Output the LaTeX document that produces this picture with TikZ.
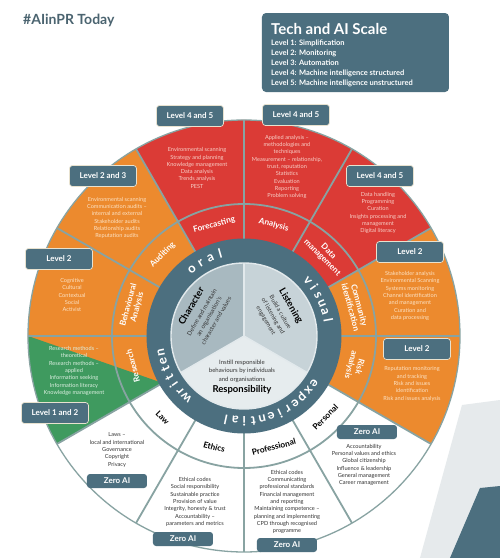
\documentclass[tikz,border=0pt]{standalone}
\usepackage{fontspec}
\setmainfont{Lato}
\definecolor{slate}{HTML}{4C6F7F}
\definecolor{redc}{HTML}{DB3B36}
\definecolor{orangec}{HTML}{EC8A2E}
\definecolor{greenc}{HTML}{3F9A5F}
\definecolor{divc}{HTML}{88A3A2}
\definecolor{pieA}{HTML}{A8B9C0}
\definecolor{pieB}{HTML}{C7D3D8}
\definecolor{pieC}{HTML}{E6ECEE}
\definecolor{pieE}{HTML}{E2E9EC}
\definecolor{hashc}{HTML}{4B6470}
\definecolor{redtxt}{HTML}{F8D0C8}
\definecolor{orgtxt}{HTML}{FCE2C4}
\definecolor{grntxt}{HTML}{DDF0E2}
\definecolor{darktxt}{HTML}{333333}
\definecolor{boxedge}{HTML}{E8E2CF}
\definecolor{lightdeco}{HTML}{E6EAEC}
\newcommand\ringseg[3]{\fill[#1] (#2:97) arc[start angle=#2, end angle=#3, radius=97] -- (#3:216) arc[start angle=#3, end angle=#2, radius=216] -- cycle;}
\newcommand\ringword[4]{%
  \foreach \lt [count=\i from 0, evaluate=\i as \ang using #1-\i*#2] in {#3}
  {\node[ringtxt, rotate=\ang-90, anchor=base] (#4\i) at (\ang:81) {\lt};}}
\newcommand\ptitlefont{\bfseries\fontsize{9.5}{8.3}\selectfont}
\newcommand\pdescfont{\mdseries\fontsize{6}{8.3}\selectfont}
\begin{document}
\begin{tikzpicture}[x=1pt,y=1pt,
  divline/.style={draw=divc, line width=1.8pt},
  pieline/.style={draw=pieE, line width=1.4pt},
  ringtxt/.style={text=white, font=\bfseries\fontsize{13}{13}\selectfont, inner sep=0pt},
  labW/.style={text=white, font=\bfseries\fontsize{8.3}{9}\selectfont, align=center, inner sep=0pt},
  labD/.style={text=black, font=\bfseries\fontsize{8.3}{9}\selectfont, align=center, inner sep=0pt},
  content/.style={font=\fontsize{5.6}{7.3}\selectfont, align=center, inner sep=0pt},
  levelbox/.style={fill=slate, draw=boxedge, line width=0.7pt, rounded corners=3pt, text=white,
    font=\bfseries\fontsize{8}{9}\selectfont, minimum width=67pt, minimum height=21pt, inner sep=0pt},
  zerobox/.style={fill=slate, rounded corners=3pt, text=white,
    font=\bfseries\fontsize{8}{9}\selectfont, minimum width=60pt, minimum height=14pt, inner sep=0pt},
  pietext/.style={text=darktxt, align=center, inner sep=0pt, font=\pdescfont}
]
\useasboundingbox (-244,-222) rectangle (256,336);
\fill[white] (-244,-222) rectangle (256,336);
% background decoration
\fill[lightdeco] (218,-69) -- (256,-64) -- (256,-222) -- (176,-222) -- cycle;
\fill[slate] (236,-152) -- (256,-150) -- (256,-222) -- (206,-222) -- cycle;
% segments
\ringseg{redc}{30}{120}
\ringseg{orangec}{120}{210}
\ringseg{orangec}{-30}{30}
\fill[greenc] (180:216) -- (208:97) arc[start angle=208, end angle=210, radius=97] -- (210:216) arc[start angle=210, end angle=180, radius=216] -- cycle;
% dividers
\foreach \a in {0,30,...,330} \draw[divline] (\a:97) -- (\a:216);
\draw[divline] (0,0) circle[radius=132];
\draw[divline, line width=1.3pt] (0,0) circle[radius=216];
% dark ring
\fill[slate] (0,0) circle[radius=97.5];
% pie
\fill[pieA] (0,0) -- (90:73) arc[start angle=90, end angle=210, radius=73] -- cycle;
\fill[pieB] (0,0) -- (-30:73) arc[start angle=-30, end angle=90, radius=73] -- cycle;
\fill[pieC] (0,0) -- (210:73) arc[start angle=210, end angle=330, radius=73] -- cycle;
\draw[pieline] (0,0) -- (90:73);
\draw[pieline] (0,0) -- (210:73);
\draw[pieline] (0,0) -- (330:73);
\draw[pieline] (0,0) circle[radius=73];
% ring words
\ringword{128}{7.3}{o,r,a,l}{oral}
\ringword{41}{6.1}{v,i,s,u,a,l}{visual}
\ringword{227}{6}{w,r,i,t,t,e,n}{written}
\ringword{-34}{6.2}{e,x,p,e,r,i,e,n,t,i,a,l}{exper}
% pie texts
\node[pietext, rotate=60] (charn) at (-41,23) {{\ptitlefont\color{black}Character}\\[3pt]Define and maintain\\an organisation's\\character and values};
\node[pietext, rotate=-60] (listn) at (35,23) {{\ptitlefont\color{black}Listening}\\[3pt]Build a culture\\of listening and\\engagement};
\node[pietext] (respn) at (-2,-41) {Instill responsible\\behaviours by individuals\\and organisations\\[3pt]{\ptitlefont\color{black}Responsibility}};
% label band
\node[labW, rotate=15] (lfore) at (105:115) {Forecasting};
\node[labW, rotate=-15] (lanal) at (75:115) {Analysis};
\node[labW, rotate=-45] (ldata) at (45:115) {Data\\management};
\node[labW, rotate=-75] (lcomm) at (15:115) {Community\\identification};
\node[labW, rotate=-105] (lrisk) at (-15:115) {Risk\\analysis};
\node[labD, rotate=45] (lpers) at (-45:115) {Personal};
\node[labD, rotate=15] (lprof) at (-75:115) {Professional};
\node[labD, rotate=-15] (lethi) at (-105:115) {Ethics};
\node[labD, rotate=-45] (llaw) at (-135:115) {Law};
\node[labW, rotate=105] (lrese) at (195:115) {Research};
\node[labW, rotate=75] (lbeha) at (165:115) {Behavioural\\Analysis};
\node[labW, rotate=45] (laudi) at (135:115) {Auditing};
% outer contents
\node[content, text=redtxt] (cfore) at (-47,168) {Environmental scanning\\Strategy and planning\\Knowledge management\\Data analysis\\Trends analysis\\PEST};
\node[content, text=redtxt] (canal) at (43,169) {Applied analysis –\\methodologies and\\techniques\\Measurement – relationship,\\trust, reputation\\Statistics\\Evaluation\\Reporting\\Problem solving};
\node[content, text=redtxt] (cdata) at (134,123) {Data handling\\Programming\\Curation\\Insights processing and\\management\\Digital literacy};
\node[content, text=orgtxt] (ccomm) at (166,40) {Stakeholder analysis\\Environmental Scanning\\Systems monitoring\\Channel identification\\and management\\Curation and\\data processing};
\node[content, text=orgtxt] (crisk) at (168,-48) {Reputation monitoring\\and tracking\\Risk and issues\\identification\\Risk and issues analysis};
\node[content, text=darktxt] (cpers) at (120,-129) {Accountability\\Personal values and ethics\\Global citizenship\\Influence \& leadership\\General management\\Career management};
\node[content, text=darktxt] (cprof) at (43,-166) {Ethical codes\\Communicating\\professional standards\\Financial management\\and reporting\\Maintaining competence –\\planning and implementing\\CPD through recognised\\programme};
\node[content, text=darktxt] (cethi) at (-49,-166) {Ethical codes\\Social responsibility\\Sustainable practice\\Provision of value\\Integrity, honesty \& trust\\Accountability –\\parameters and metrics};
\node[content, text=darktxt] (claw) at (-127,-114) {Laws –\\local and international\\Governance\\Copyright\\Privacy};
\node[content, text=grntxt] (crese) at (-170,-35) {Research methods –\\theoretical\\Research methods –\\applied\\Information seeking\\Information literacy\\Knowledge management};
\node[content, text=orgtxt] (cbeha) at (-172,41) {Cognitive\\Cultural\\Contextual\\Social\\Activist};
\node[content, text=orgtxt] (caudi) at (-127,118) {Environmental scanning\\Communication audits –\\internal and external\\Stakeholder audits\\Relationship audits\\Reputation audits};
% level boxes
\node[levelbox] (bfore) at (-54,220) {Level 4 and 5};
\node[levelbox] (banal) at (52,221) {Level 4 and 5};
\node[levelbox] (bdata) at (136,160) {Level 4 and 5};
\node[levelbox] (bcomm) at (166,84) {Level 2};
\node[levelbox] (brisk) at (173,-13) {Level 2};
\node[zerobox] (bpers) at (123,-96) {Zero AI};
\node[zerobox] (bprof) at (43,-209) {Zero AI};
\node[zerobox] (bethi) at (-61,-203) {Zero AI};
\node[zerobox] (blaw) at (-127,-145) {Zero AI};
\node[levelbox] (brese) at (-189,-77) {Level 1 and 2};
\node[levelbox] (bbeha) at (-185,77) {Level 2};
\node[levelbox] (baudi) at (-141,160) {Level 2 and 3};
% title and scale box
\node[anchor=west, text=hashc, font=\bfseries\fontsize{14}{16}\selectfont, inner sep=0pt] (hash) at (-221,316) {\#AIinPR Today};
\node[fill=slate, rounded corners=4pt, minimum width=187pt, minimum height=79pt, inner sep=0pt] (techbox) at (111.5,283.5) {};
\node[anchor=base west, text=white, font=\bfseries\fontsize{15}{17}\selectfont, inner sep=0pt] (techtitle) at (27,302) {Tech and AI Scale};
\node[anchor=north west, text=white, font=\bfseries\fontsize{7.5}{10}\selectfont, align=left, inner sep=0pt] (techlist) at (27,296.5) {Level 1: Simplification\\Level 2: Monitoring\\Level 3: Automation\\Level 4: Machine intelligence structured\\Level 5: Machine intelligence unstructured};
\end{tikzpicture}
\end{document}
